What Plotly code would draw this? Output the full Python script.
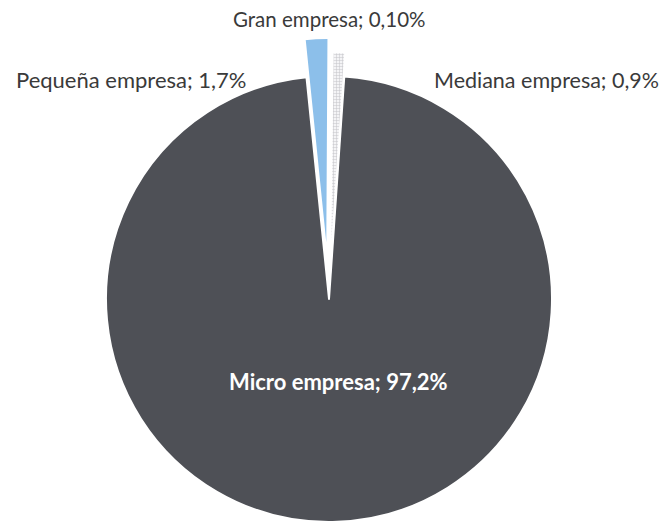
import math
import plotly.graph_objects as go

# ---- data ----
categories = ["Pequeña empresa", "Gran empresa", "Mediana empresa", "Micro empresa"]
shares = [1.7, 0.10, 0.9, 97.2]
share_decimals = [1, 2, 1, 1]

# ---- styling ----
colors = ["#8cbfea", "#f4f4f4", "#ececee", "#4e5056"]
W, H = 669, 522
OFF = 8                               # page body margin offset
cx, cy, R = 329 - OFF, 299 - OFF, 223  # pie centre and radius in figure pixels
rotation = -5.8
pull_px = {"Pequeña empresa": 38, "Mediana empresa": 24}

def fmt(v, d):
    return f"{v:.{d}f}".replace(".", ",") + "%"

labels_txt = [f"{c}; {fmt(v, d)}" for c, v, d in zip(categories, shares, share_decimals)]

def domain(dx=0.0, dy=0.0):
    x0 = (cx + dx - R) / W
    x1 = (cx + dx + R) / W
    yc = (H - (cy + dy)) / H
    return dict(x=[max(0, x0), min(1, x1)], y=[max(0, yc - R / H), min(1, yc + R / H)])

total = sum(shares)
fig = go.Figure()

# main pie: unpulled slices
main_colors = [("rgba(0,0,0,0)" if c in pull_px else col) for c, col in zip(categories, colors)]
main_lines = [("rgba(0,0,0,0)" if c in pull_px else "white") for c in categories]
fig.add_trace(go.Pie(
    labels=categories, values=shares, sort=False, direction="clockwise",
    rotation=rotation, textinfo="none", showlegend=False,
    marker=dict(colors=main_colors, line=dict(color=main_lines, width=2)),
    domain=domain(),
))

# exploded slices, each drawn as its own pie shifted outward along the slice's mid angle
start = rotation
for c, v in zip(categories, shares):
    span = v / total * 360
    mid = start + span / 2
    start += span
    if c not in pull_px:
        continue
    off = pull_px[c]
    dx = off * math.sin(math.radians(mid))
    dy = -off * math.cos(math.radians(mid))
    cols = [col if cc == c else "rgba(0,0,0,0)" for cc, col in zip(categories, colors)]
    lns = ["white" if cc == c else "rgba(0,0,0,0)" for cc in categories]
    marker = dict(colors=cols, line=dict(color=lns, width=2))
    if c == "Mediana empresa":
        marker["pattern"] = dict(
            shape=["", "", "+", ""], fgcolor="#c4c4c8", bgcolor="#f4f4f6",
            size=3, solidity=0.3,
        )
    fig.add_trace(go.Pie(
        labels=categories, values=shares, sort=False, direction="clockwise",
        rotation=rotation, textinfo="none", showlegend=False, hoverinfo="skip",
        marker=marker, domain=domain(dx, dy),
    ))

# labels (screen pixel centres and font sizes)
label_pos = {
    "Gran empresa": (329, 19, 20.5),
    "Pequeña empresa": (131, 79, 22),
    "Mediana empresa": (546, 80, 21.5),
    "Micro empresa": (338, 381, 22),
}
for c, t in zip(categories, labels_txt):
    px, py, fs = label_pos[c]
    px, py = px - OFF, py - OFF
    is_micro = c == "Micro empresa"
    fig.add_annotation(
        x=px / W, y=(H - py) / H, xref="paper", yref="paper",
        text=f"<b>{t}</b>" if is_micro else t, showarrow=False,
        xanchor="center", yanchor="middle",
        font=dict(family="Lato, Open Sans, sans-serif", size=fs,
                  color="white" if is_micro else "#3a3a3a"),
    )

fig.update_layout(
    width=W, height=H, margin=dict(l=0, r=0, t=0, b=0),
    paper_bgcolor="white", plot_bgcolor="white",
)
fig.write_html("out.html")
